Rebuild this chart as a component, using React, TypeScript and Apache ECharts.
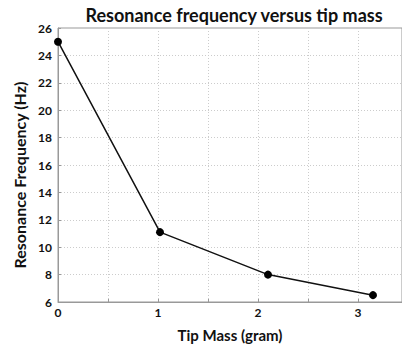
import React, { useEffect, useRef } from "react";
import * as echarts from "echarts";

const tipMass = [0, 1.02, 2.1, 3.15];
const frequency = [25, 11.1, 8.0, 6.5];
const yTicks = [6, 8, 10, 12, 14, 16, 18, 20, 22, 24, 26];

export default function App() {
  const ref = useRef<HTMLDivElement>(null);
  useEffect(() => {
    document.body.style.margin = "0";
    const chart = echarts.init(ref.current!, null, { renderer: "svg" });
    const font = "Lato, 'Open Sans', sans-serif";
    chart.setOption({
      animation: false,
      backgroundColor: "#ffffff",
      title: {
        text: "Resonance frequency versus tip mass",
        left: 229,
        top: 1,
        textAlign: "center",
        textStyle: { fontFamily: font, fontWeight: "bold", fontSize: 18, color: "#111" },
      },
      grid: {
        left: 58,
        right: 0,
        top: 28,
        bottom: 40,
        show: true,
        borderColor: "#999",
        borderWidth: 1,
      },
      xAxis: {
        type: "value",
        min: 0,
        max: 3.44,
        interval: 0.5,
        name: "Tip Mass (gram)",
        nameLocation: "middle",
        nameGap: 25,
        nameTextStyle: { fontFamily: font, fontWeight: "bold", fontSize: 15, color: "#111" },
        axisLine: { show: true, lineStyle: { color: "#999" } },
        axisTick: { show: true, length: 3, inside: true, lineStyle: { color: "#999" } },
        axisLabel: {
          fontFamily: font,
          fontWeight: "bold",
          fontSize: 12,
          color: "#111",
          margin: 4,
          showMaxLabel: false,
          formatter: (v: number) => (Number.isInteger(v) ? String(v) : ""),
        },
        splitLine: { show: true, lineStyle: { color: "#ccc", type: [1, 2] } },
      },
      yAxis: {
        type: "value",
        min: yTicks[0],
        max: yTicks[yTicks.length - 1],
        interval: 2,
        name: "Resonance Frequency (Hz)",
        nameLocation: "middle",
        nameGap: 30,
        nameTextStyle: { fontFamily: font, fontWeight: "bold", fontSize: 16, color: "#111", padding: [0, 20, 0, 0] },
        axisLine: { show: true, lineStyle: { color: "#999" } },
        axisTick: { show: true, length: 3, inside: true, lineStyle: { color: "#999" } },
        axisLabel: { fontFamily: font, fontWeight: "bold", fontSize: 12, color: "#111", margin: 6 },
        splitLine: { show: true, lineStyle: { color: "#ccc", type: [1, 2] } },
      },
      series: [
        {
          type: "line",
          data: tipMass.map((x, i) => [x, frequency[i]]),
          symbol: "circle",
          symbolSize: 8,
          itemStyle: { color: "#000" },
          lineStyle: { color: "#111", width: 1.5 },
        },
      ],
    });
    return () => chart.dispose();
  }, []);
  return <div ref={ref} style={{ width: 402, height: 347 }} />;
}
